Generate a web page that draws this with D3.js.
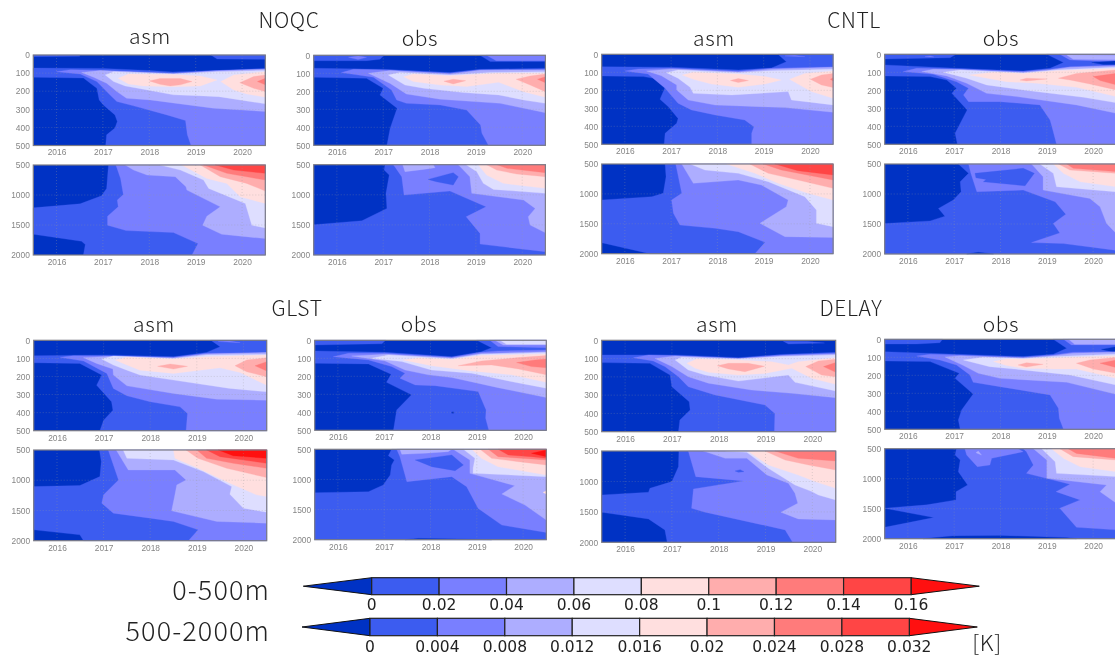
<!doctype html>
<html lang="en">
<head>
<meta charset="UTF-8">
<title>Temperature difference sections</title>
<script src="https://cdn.jsdelivr.net/npm/d3@7"></script>
<style>
    html, body { margin: 0; padding: 0; background: #fff; overflow: hidden; }
    svg { display: block; filter: blur(0.35px); }
    .title { font-family: "Noto Sans CJK JP", "Noto Sans", sans-serif; font-weight: 300; fill: #222; letter-spacing: 0.6px; }
    .side { letter-spacing: 1.1px; }
    .tick text { font-family: "Liberation Sans", sans-serif; font-size: 8.4px; fill: #858585; }
    .bar-label { font-family: "DejaVu Sans", sans-serif; font-size: 15.5px; fill: #222; text-anchor: middle; }
    .grid { stroke: #999; stroke-width: 0.6; stroke-dasharray: 1 2; opacity: 0.55; }
    .frame { fill: none; stroke: #7c7c86; stroke-width: 1.2; }
</style>
</head>
<body>
<div id="chart"></div>
<script>
// axes
const yearTicks = [2016, 2017, 2018, 2019, 2020];
const yearRange = [2015.5, 2020.5];
const upperDepthTicks = [0, 100, 200, 300, 400, 500];
const lowerDepthTicks = [500, 1000, 1500, 2000];

// colour classes, darkest blue = below 0, red = above top level
const classColors = ["#0032c4", "#3c5cf0", "#797fff", "#adadff", "#dedeff", "#ffdfdf", "#ffadad", "#ff7b7b", "#ff4545", "#ff1010"];
const upperLevels = ["0", "0.02", "0.04", "0.06", "0.08", "0.1", "0.12", "0.14", "0.16"];
const lowerLevels = ["0", "0.004", "0.008", "0.012", "0.016", "0.02", "0.024", "0.028", "0.032"];

// Contour regions. Each row: class, then year,depth pairs.
// Rows are painted in order on top of the class 0 background.
const noqcAsmUpper = [
    [1, 2015.5,0, 2016.5,0, 2016.5,7, 2015.5,9],
    [1, 2019.33,0, 2019.46,22, 2020.5,24, 2020.5,0],
    [1, 2015.5,72, 2017,74, 2018,86, 2018.5,94, 2019.46,86, 2020.5,74, 2020.5,500, 2017.06,500, 2017.08,441, 2017.26,404, 2017.31,368, 2017.26,331, 2017.01,276, 2016.92,248, 2016.87,184, 2016.58,127, 2015.5,123],
    [2, 2016,92, 2016.3,81, 2017,86, 2018.5,101, 2019.46,86, 2020.5,77, 2020.5,500, 2018.9,500, 2018.82,441, 2018.78,362, 2018.38,331, 2017.66,281, 2017.3,257, 2017.15,220, 2016.87,147, 2016.51,105],
    [3, 2016.54,96, 2016.94,86, 2018.52,103, 2019.46,88, 2020.5,79, 2020.5,312, 2019.38,294, 2018.02,248, 2017.51,239, 2017.3,202, 2017.08,156, 2016.8,123],
    [4, 2017.05,110, 2017.23,92, 2018.52,105, 2019.46,92, 2020.5,86, 2020.5,270, 2019.5,230, 2019.17,226, 2018.52,220, 2017.87,189, 2017.48,171, 2017.23,147],
    [5, 2017.33,129, 2017.55,105, 2018.52,108, 2019.1,116, 2019.46,138, 2019.1,171, 2018.52,175, 2017.87,171, 2017.55,160],
    [5, 2019.54,147, 2019.82,110, 2020.5,92, 2020.5,233, 2020.1,215, 2019.82,193],
    [6, 2018,143, 2018.23,130, 2018.67,130, 2018.92,147, 2018.67,165, 2018.45,171, 2018.23,162],
    [6, 2019.95,153, 2020.25,119, 2020.5,110, 2020.5,202, 2020.25,184],
    [7, 2020.33,147, 2020.5,129, 2020.5,165]
];
const noqcAsmLower = [
    [1, 2017.12,500, 2020.5,500, 2020.5,2000, 2016.58,2000, 2016.62,1827, 2016.54,1771, 2015.5,1654, 2015.5,1214, 2016.51,1147, 2016.97,1013, 2017.08,890],
    [2, 2017.28,500, 2017.38,723, 2017.44,991, 2017.31,1085, 2017.33,1197, 2017.1,1353, 2017.1,1504, 2017.5,1593, 2018.52,1626, 2019.05,1810, 2018.92,2000, 2020.5,2000, 2020.5,500],
    [3, 2017.48,500, 2017.66,584, 2017.95,667, 2018.56,695, 2018.79,862, 2018.81,918, 2019.53,1197, 2019.24,1353, 2019.15,1504, 2019.56,1654, 2020.5,1727, 2020.5,500],
    [4, 2018.23,500, 2018.67,584, 2019.17,751, 2019.28,890, 2020.07,1141, 2020.21,1504, 2020.5,1548, 2020.5,500],
    [5, 2018.7,500, 2019.24,723, 2019.67,807, 2019.96,1030, 2020.5,1141, 2020.5,500],
    [6, 2019.1,500, 2019.53,695, 2020.1,807, 2020.5,935, 2020.5,500],
    [7, 2019.17,500, 2019.67,639, 2020.5,751, 2020.5,500],
    [8, 2019.42,500, 2019.82,584, 2020.5,639, 2020.5,500]
];
const noqcObsUpper = [
    [1, 2019.09,0, 2019.31,35, 2020.5,35, 2020.5,0],
    [2, 2019.23,0, 2019.44,30, 2020.5,30, 2020.5,0],
    [1, 2015.5,0, 2017.02,0, 2016.93,22, 2016.64,30, 2015.5,30],
    [2, 2016.25,11, 2016.46,4, 2016.64,11, 2016.46,24],
    [1, 2015.5,72, 2017,78, 2018.44,96, 2019.09,78, 2020.5,72, 2020.5,500, 2017.08,500, 2017.15,405, 2017.3,294, 2016.93,220, 2017,183, 2016.64,128, 2015.5,122],
    [2, 2016.1,96, 2016.36,78, 2017,81, 2018.44,100, 2019.09,81, 2020.5,78, 2020.5,500, 2019.27,500, 2019.13,433, 2019.1,387, 2018.8,304, 2018.23,276, 2017.5,267, 2017.29,248, 2017.18,193, 2016.79,122],
    [3, 2016.68,100, 2017.15,85, 2018.44,104, 2019.09,83, 2020.5,81, 2020.5,319, 2019.52,267, 2018.23,244, 2017.5,215, 2017.15,156],
    [4, 2017.11,109, 2017.36,96, 2018.44,109, 2019.31,96, 2020.5,91, 2020.5,267, 2020.03,248, 2019.49,220, 2018.73,207, 2017.87,183, 2017.47,165],
    [5, 2017.44,119, 2017.65,104, 2018.44,113, 2019.45,100, 2020.5,100, 2020.5,233, 2020.03,202, 2019.49,150, 2018.8,174, 2018.23,165, 2017.65,146],
    [6, 2018.31,144, 2018.51,133, 2018.78,141, 2018.51,159],
    [6, 2019.87,133, 2020.17,115, 2020.5,104, 2020.5,202, 2020.17,165],
    [7, 2020.33,133, 2020.5,119, 2020.5,152]
];
const noqcObsLower = [
    [1, 2017.04,500, 2020.5,500, 2020.5,2000, 2015.5,2000, 2015.5,1497, 2016.54,1431, 2017.08,1226, 2017.06,976, 2017.13,672, 2017.02,589],
    [2, 2017.22,500, 2017.4,699, 2017.45,1004, 2018.44,938, 2019.22,1198, 2018.79,1364, 2019.09,1641, 2019.09,1819, 2020.5,1946, 2020.5,500],
    [1, 2017.97,744, 2018.51,633, 2018.62,699, 2018.51,838, 2018.15,783],
    [3, 2017.42,500, 2017.47,616, 2017.87,578, 2018.12,550, 2018.08,500],
    [3, 2018.62,500, 2018.87,699, 2018.91,976, 2020.03,1087, 2020.28,1226, 2020.13,1364, 2020.17,1503, 2020.5,1630, 2020.5,500],
    [4, 2018.79,500, 2019.02,616, 2019.16,810, 2019.38,910, 2020.5,976, 2020.5,500],
    [5, 2019.05,500, 2019.23,672, 2019.59,810, 2020.5,893, 2020.5,500],
    [6, 2019.23,500, 2019.45,589, 2019.88,655, 2020.5,699, 2020.5,500],
    [7, 2019.45,500, 2019.67,561, 2020.5,633, 2020.5,500]
];
const cntlAsmUpper = [
    [1, 2019.31,0, 2019.49,41, 2019.17,76, 2018.45,87, 2017.01,72, 2015.5,69, 2015.5,120, 2016.4,124, 2016.62,133, 2016.87,183, 2016.76,250, 2016.94,291, 2017.15,356, 2017.12,383, 2016.87,439, 2016.85,500, 2020.5,500, 2020.5,0],
    [2, 2019.46,9, 2019.67,6, 2019.89,13],
    [2, 2016,93, 2016.29,81, 2017.01,78, 2018.45,94, 2019.17,78, 2020.5,70, 2020.5,500, 2018.74,500, 2018.74,439, 2018.79,402, 2018.59,365, 2017.95,337, 2017.44,309, 2017.15,272, 2016.87,189, 2016.5,109],
    [3, 2016.47,93, 2017.01,81, 2018.45,98, 2019.17,83, 2020.5,72, 2020.5,322, 2019.46,296, 2017.95,282, 2017.37,254, 2017.12,198, 2017.12,170, 2016.79,119],
    [4, 2016.9,102, 2017.15,87, 2018.45,102, 2019.17,91, 2020.5,83, 2020.5,281, 2019.6,254, 2019.53,207, 2018.31,226, 2017.48,217, 2017.41,183, 2017.15,133],
    [5, 2017.24,115, 2017.48,100, 2018.45,109, 2019.03,124, 2019.38,143, 2019.03,165, 2018.45,183, 2017.87,165, 2017.48,139],
    [5, 2019.56,139, 2019.89,106, 2020.5,93, 2020.5,244, 2020.03,207],
    [6, 2018.28,146, 2018.45,135, 2018.67,146, 2018.45,157],
    [6, 2020.01,139, 2020.25,115, 2020.5,106, 2020.5,185, 2020.25,170],
    [7, 2020.44,139, 2020.5,130, 2020.5,148]
];
const cntlAsmLower = [
    [1, 2016.87,500, 2020.5,500, 2020.5,2000, 2016.54,2000, 2015.5,1816, 2015.5,1102, 2016.58,1046, 2016.83,991, 2016.89,712],
    [2, 2017.1,500, 2017.23,991, 2017.01,1102, 2017.05,1325, 2017.19,1520, 2017.95,1576, 2018.45,1632, 2019.03,1810, 2018.81,2000, 2020.5,2000, 2020.5,500],
    [3, 2017.23,500, 2017.48,823, 2018.45,768, 2018.95,851, 2019.53,1102, 2019.49,1214, 2018.92,1492, 2019.46,1715, 2020.5,1727, 2020.5,500],
    [4, 2017.41,500, 2017.73,600, 2018.45,656, 2019.1,796, 2019.89,1046, 2020.14,1269, 2020.14,1492, 2020.5,1548, 2020.5,500],
    [5, 2018.2,500, 2018.81,656, 2019.31,823, 2019.96,991, 2020.5,1102, 2020.5,500],
    [6, 2018.7,500, 2019.1,656, 2019.74,768, 2020.5,907, 2020.5,500],
    [7, 2018.99,500, 2019.38,600, 2020.5,768, 2020.5,500],
    [8, 2019.24,500, 2019.74,612, 2020.5,684, 2020.5,500]
];
const cntlObsUpper = [
    [1, 2015.5,59, 2017.05,78, 2018.49,93, 2019.07,78, 2019.36,46, 2019,0, 2020.5,0, 2020.5,500, 2017.07,500, 2017.02,439, 2017.28,309, 2016.95,217, 2017.05,189, 2016.84,143, 2016.48,124, 2015.5,120],
    [1, 2015.5,0, 2017.04,0, 2016.91,19, 2015.5,26],
    [2, 2016.37,13, 2016.48,9, 2016.56,15],
    [2, 2019.28,0, 2019.5,31, 2020.5,41, 2020.5,0],
    [3, 2019.43,4, 2019.57,28, 2020.5,31, 2020.5,6],
    [0, 2019.97,46, 2020.5,37, 2020.5,59, 2020.22,56],
    [2, 2015.9,96, 2016.19,78, 2017.05,81, 2018.49,96, 2019.07,83, 2019.5,69, 2020.5,59, 2020.5,500, 2019.21,500, 2019.13,420, 2019.07,365, 2018.85,281, 2017.99,263, 2017.31,263, 2017.2,226, 2017.31,189, 2017.05,152, 2016.55,111],
    [3, 2016.3,96, 2016.55,83, 2017.05,85, 2018.49,100, 2019.07,87, 2019.5,72, 2020.5,65, 2020.5,328, 2019.64,281, 2018.35,235, 2017.7,217, 2017.27,161, 2016.84,120],
    [4, 2016.77,100, 2017.13,87, 2018.49,104, 2019.21,87, 2020.5,72, 2020.5,269, 2019.79,239, 2018.49,198, 2017.7,170, 2017.27,133],
    [5, 2017.33,115, 2017.85,100, 2018.49,106, 2019.21,91, 2020.5,78, 2020.5,235, 2019.64,183, 2018.78,161, 2018.13,152],
    [6, 2018.42,143, 2018.56,133, 2019,137, 2018.56,148],
    [6, 2019.25,133, 2019.64,106, 2020.5,87, 2020.5,198, 2019.93,165, 2019.5,143],
    [7, 2020,124, 2020.5,106, 2020.5,170, 2020.15,146]
];
const cntlObsLower = [
    [1, 2017.09,500, 2020.5,500, 2020.5,2000, 2015.5,2000, 2015.5,1492, 2016.48,1448, 2016.8,1370, 2016.66,1241, 2016.98,1102, 2017.15,963, 2017.13,796, 2017.31,656],
    [0, 2017.27,2000, 2017.52,1972, 2017.85,2000],
    [2, 2017.31,500, 2017.36,656, 2017.49,963, 2018.49,935, 2019.18,1130, 2019.41,1336, 2019.14,1492, 2019.28,1649, 2018.67,1810, 2019.36,1827, 2020.5,1939, 2020.5,500],
    [1, 2017.45,656, 2018.49,572, 2018.73,656, 2018.53,862, 2017.63,796, 2017.69,757, 2017.47,729],
    [3, 2018.67,500, 2018.92,712, 2018.92,935, 2019.93,1074, 2020.15,1214, 2020.29,1492, 2020.5,1660, 2020.5,500],
    [4, 2018.85,500, 2019.14,656, 2019.21,879, 2020.5,963, 2020.5,500],
    [5, 2019.14,500, 2019.36,656, 2019.72,796, 2020.5,879, 2020.5,500],
    [6, 2019.25,500, 2019.5,600, 2020.5,656, 2020.5,500],
    [7, 2019.43,500, 2019.57,572, 2020.5,628, 2020.5,500]
];
const glstAsmUpper = [
    [1, 2015.5,85, 2017.07,81, 2018.5,91, 2019.21,67, 2019.5,35, 2019.3,0, 2020.5,0, 2020.5,500, 2016.92,500, 2017,442, 2017.2,387, 2017.17,340, 2016.85,248, 2016.96,192, 2016.49,128, 2015.5,124],
    [2, 2019.46,7, 2019.71,4, 2019.93,13],
    [2, 2016.07,94, 2016.35,85, 2017.07,87, 2018.5,94, 2019.21,72, 2020.5,68, 2020.5,500, 2018.77,500, 2018.8,405, 2018.64,368, 2018,340, 2017.5,307, 2017.21,266, 2017.07,183, 2016.57,115],
    [3, 2016.57,96, 2017.07,90, 2018.5,98, 2019.21,76, 2020.5,68, 2020.5,331, 2019.43,326, 2018.5,294, 2017.5,252, 2017.21,192, 2017.2,159, 2016.85,128],
    [4, 2016.96,104, 2017.21,87, 2018.5,100, 2019.21,81, 2020.5,78, 2020.5,285, 2019.71,266, 2018.5,220, 2017.78,192, 2017.5,165, 2017.21,137],
    [5, 2017.25,109, 2017.5,94, 2018.5,104, 2019.21,91, 2020.5,81, 2020.5,248, 2019.93,178, 2019.5,152, 2018.5,183, 2017.78,165, 2017.42,128],
    [6, 2018.16,144, 2018.43,131, 2018.8,144, 2018.5,159],
    [6, 2019.82,141, 2020.07,109, 2020.5,96, 2020.5,202, 2020.07,174],
    [7, 2020.25,141, 2020.5,118, 2020.5,170]
];
const glstAsmLower = [
    [1, 2016.91,500, 2020.5,500, 2020.5,2000, 2016.57,2000, 2016.49,1902, 2015.5,1820, 2015.5,1105, 2016.49,1088, 2016.92,940, 2016.95,692],
    [2, 2017.1,500, 2017.32,995, 2017,1242, 2016.96,1380, 2017.21,1545, 2018,1627, 2018.5,1682, 2019.03,1820, 2018.82,2000, 2020.5,2000, 2020.5,500],
    [3, 2017.27,500, 2017.53,830, 2018.53,830, 2018.77,995, 2018.57,1077, 2018.53,1242, 2018.46,1506, 2019.43,1682, 2020.5,1710, 2020.5,500],
    [4, 2017.42,500, 2017.5,637, 2018.5,665, 2019.14,857, 2019.75,1105, 2019.71,1231, 2020,1462, 2020.5,1528, 2020.5,500],
    [5, 2018.5,500, 2018.53,637, 2019.03,802, 2019.71,1050, 2020.28,1242, 2020.5,1270, 2020.5,500],
    [6, 2018.77,500, 2019.02,637, 2019.64,802, 2020.5,956, 2020.5,500],
    [7, 2019,500, 2019.21,637, 2019.78,720, 2020.5,802, 2020.5,500],
    [8, 2019.21,500, 2019.5,610, 2020.5,720, 2020.5,500],
    [9, 2019.46,500, 2019.78,594, 2020.5,637, 2020.5,500]
];
const glstObsUpper = [
    [1, 2015.5,59, 2017.03,67, 2018.46,91, 2019.1,63, 2019.32,41, 2019,0, 2020.5,0, 2020.5,500, 2017.2,500, 2017.27,387, 2017.59,303, 2017.05,233, 2017.15,189, 2016.66,131, 2015.5,128],
    [1, 2015.5,0, 2017.03,0, 2016.95,19, 2015.5,26],
    [2, 2019.28,0, 2019.46,35, 2020.5,41, 2020.5,0],
    [3, 2019.39,0, 2019.57,26, 2020.5,26, 2020.5,0],
    [4, 2019.5,0, 2019.64,22, 2020.5,22, 2020.5,0],
    [2, 2015.9,91, 2016.23,72, 2017.03,72, 2018.46,94, 2019.1,67, 2019.46,59, 2020.5,54, 2020.5,500, 2019.26,500, 2019.19,433, 2019.2,387, 2019.03,285, 2018.1,252, 2017.67,248, 2017.34,211, 2017.45,183, 2017.16,146, 2016.66,109],
    [0, 2018.46,398, 2018.5,398, 2018.5,405, 2018.46,405],
    [3, 2016.3,87, 2017.03,78, 2018.46,98, 2019.1,74, 2020.5,63, 2020.5,318, 2019.46,263, 2018.46,207, 2017.95,192, 2017.45,165, 2017.02,115],
    [4, 2016.73,100, 2017.09,81, 2018.46,102, 2019.1,78, 2020.5,68, 2020.5,266, 2019.82,233, 2018.89,183, 2018.02,165, 2017.38,118],
    [5, 2017.41,109, 2017.74,98, 2018.46,106, 2019.1,85, 2020.5,76, 2020.5,233, 2019.75,192, 2018.89,170, 2018.02,141],
    [6, 2018.6,141, 2019.1,115, 2019.9,96, 2020.5,85, 2020.5,192, 2019.9,159, 2019.32,137],
    [7, 2019.86,124, 2020.26,109, 2020.5,104, 2020.5,152, 2020.18,146]
];
const glstObsLower = [
    [1, 2017.16,500, 2020.5,500, 2020.5,2000, 2015.5,2000, 2015.5,1220, 2016.66,1204, 2016.98,1093, 2017.13,927, 2017.16,760, 2017.22,677, 2017.09,605],
    [0, 2017.45,2000, 2017.74,1979, 2018.6,1990, 2019.32,2000],
    [2, 2017.27,500, 2017.34,622, 2017.39,760, 2017.49,1037, 2018.46,954, 2018.78,1120, 2019.03,1481, 2019.54,1758, 2020.5,1880, 2020.5,500],
    [1, 2017.67,677, 2018.46,594, 2018.71,760, 2018.53,855, 2018.03,788],
    [3, 2017.34,500, 2017.38,583, 2017.88,566, 2018.38,539, 2018.46,500],
    [3, 2018.49,500, 2018.85,677, 2018.85,899, 2019.82,1104, 2019.54,1242, 2020.04,1425, 2020.5,1674, 2020.5,500],
    [5, 2020.43,1215, 2020.5,1187, 2020.5,1242],
    [4, 2018.71,500, 2018.96,650, 2018.92,816, 2018.92,899, 2020.5,954, 2020.5,500],
    [5, 2018.89,500, 2019.1,650, 2019.46,788, 2020.5,927, 2020.5,500],
    [6, 2019.07,500, 2019.32,650, 2019.9,705, 2020.5,760, 2020.5,500],
    [7, 2019.25,500, 2019.46,622, 2020.5,677, 2020.5,500],
    [8, 2019.46,500, 2019.68,594, 2020.18,622, 2020.5,650, 2020.5,500],
    [9, 2020.18,566, 2020.5,511, 2020.5,622]
];
const delayAsmUpper = [
    [1, 2015.5,80, 2017.07,80, 2018.42,95, 2019.35,77, 2020.5,66, 2020.5,500, 2017.14,500, 2017.17,436, 2017.39,381, 2017.37,336, 2017,254, 2016.96,190, 2016.53,126, 2015.5,122],
    [1, 2019.38,5, 2019.49,20, 2020.26,15, 2019.9,7],
    [2, 2016.18,95, 2016.5,80, 2017.07,84, 2018.42,99, 2019.35,80, 2020.5,71, 2020.5,500, 2019.19,500, 2019.2,400, 2018.99,354, 2017.92,299, 2017.35,254, 2017.14,199, 2016.85,144, 2016.6,113],
    [3, 2016.64,99, 2017.07,86, 2018.42,100, 2019.35,84, 2020.5,75, 2020.5,314, 2019.56,290, 2018.7,272, 2017.78,235, 2017.35,199, 2017,144],
    [4, 2017.07,108, 2017.21,93, 2018.42,102, 2019.35,89, 2020.5,80, 2020.5,277, 2019.63,230, 2019.49,190, 2018.42,223, 2017.71,190, 2017.35,162],
    [5, 2017.32,126, 2017.53,102, 2018.42,108, 2019.13,117, 2019.49,135, 2019.7,117, 2020.5,95, 2020.5,241, 2019.99,208, 2019.56,153, 2018.99,181, 2018.42,190, 2017.78,175, 2017.5,153],
    [6, 2017.97,139, 2018.21,126, 2018.63,126, 2018.98,142, 2018.56,172, 2018.21,157],
    [6, 2019.86,144, 2020.13,113, 2020.5,104, 2020.5,199, 2020.2,190],
    [7, 2020.24,144, 2020.5,122, 2020.5,175]
];
const delayAsmLower = [
    [1, 2017.15,500, 2020.5,500, 2020.5,2000, 2016.9,2000, 2016.85,1796, 2016.5,1616, 2015.5,1506, 2015.5,1222, 2016.5,1178, 2016.53,1113, 2017,1003, 2017.14,757],
    [2, 2017.35,500, 2017.51,921, 2018.53,992, 2017.46,1124, 2017.42,1441, 2017.71,1506, 2019.42,1796, 2019.58,2000, 2020.5,2000, 2020.5,500],
    [1, 2018.35,828, 2018.46,806, 2018.54,839, 2018.42,850],
    [3, 2017.67,500, 2018.14,620, 2018.6,620, 2019.03,894, 2019.49,1031, 2019.63,1195, 2019.69,1359, 2019.33,1506, 2019.7,1616, 2020.5,1632, 2020.5,500],
    [4, 2018.14,500, 2018.6,522, 2019.06,784, 2019.63,1058, 2019.99,1167, 2020.13,1222, 2020.5,1304, 2020.5,500],
    [5, 2018.62,500, 2019.06,730, 2019.7,894, 2020.06,1003, 2020.5,1113, 2020.5,500],
    [6, 2018.99,500, 2019.42,648, 2019.92,730, 2020.5,812, 2020.5,500],
    [7, 2019.2,500, 2019.7,620, 2020.5,664, 2020.5,500]
];
const delayObsUpper = [
    [1, 2015.5,69, 2017.05,83, 2018.49,96, 2019.14,83, 2019.43,50, 2019.14,0, 2020.5,0, 2020.5,500, 2017.13,500, 2017.09,448, 2017.16,393, 2017.41,304, 2017.02,217, 2017.11,189, 2016.48,124, 2015.5,120],
    [1, 2015.5,0, 2016.75,0, 2016.69,19, 2016.19,26, 2015.5,26],
    [2, 2019.36,0, 2019.53,31, 2020.5,31, 2020.5,0],
    [3, 2019.47,0, 2019.6,28, 2020.5,28, 2020.5,0],
    [0, 2020.18,56, 2020.5,41, 2020.5,74],
    [2, 2016.19,93, 2016.48,83, 2017.05,87, 2018.49,100, 2019.14,87, 2019.57,72, 2020.5,69, 2020.5,500, 2019.36,500, 2019.27,439, 2019.25,383, 2019.07,309, 2017.99,263, 2017.41,239, 2017.34,198, 2017.05,143, 2016.69,115],
    [3, 2016.8,98, 2017.13,91, 2018.49,104, 2019.14,91, 2019.57,78, 2020.5,72, 2020.5,306, 2019.43,239, 2017.99,217, 2017.52,189, 2017.2,146],
    [4, 2017.2,115, 2017.63,100, 2018.49,106, 2019.14,96, 2020.5,83, 2020.5,254, 2019.5,198, 2018.49,170, 2017.77,152],
    [5, 2017.85,124, 2018.13,109, 2018.56,109, 2019.21,102, 2020.5,91, 2020.5,217, 2019.64,165, 2019.21,165, 2018.49,161, 2018.13,146],
    [6, 2018.38,143, 2018.56,130, 2018.92,139, 2018.56,154],
    [6, 2019.64,133, 2019.93,115, 2020.5,100, 2020.5,189, 2020,165],
    [7, 2020.15,133, 2020.5,115, 2020.5,157]
];
const delayObsLower = [
    [1, 2017.05,500, 2020.5,500, 2020.5,2000, 2015.5,2000, 2015.5,1810, 2016.56,1648, 2015.5,1492, 2016.41,1436, 2017.04,1353, 2017.04,1216, 2017.29,1105, 2017.09,884, 2017.13,689, 2017.02,606],
    [0, 2016.33,2000, 2016.98,1956, 2017.99,1950, 2019.43,1983, 2019.64,2000],
    [2, 2017.23,500, 2017.27,606, 2017.5,800, 2017.77,772, 2017.81,661, 2018.49,550, 2018.38,500],
    [3, 2017.47,566, 2017.59,606, 2017.52,539],
    [2, 2018.49,500, 2018.56,550, 2018.71,772, 2018.56,911, 2019.5,1093, 2019.2,1216, 2019.72,1353, 2019.28,1492, 2019.64,1810, 2020.5,1854, 2020.5,500],
    [3, 2018.71,500, 2019,689, 2019,994, 2020.29,1105, 2020.15,1216, 2020.5,1409, 2020.5,500],
    [4, 2018.89,500, 2019.18,717, 2019.21,911, 2020.5,966, 2020.5,500],
    [5, 2019.1,500, 2019.36,661, 2019.72,800, 2020.5,883, 2020.5,500],
    [6, 2019.28,500, 2019.57,633, 2020.5,689, 2020.5,500],
    [7, 2019.46,500, 2019.64,578, 2020.5,661, 2020.5,500]
];

// page layout
const panels = [
    { x: 33.3, w: 232, upperTop: 55, upperH: 90.5, lowerTop: 165, lowerH: 90, upper: noqcAsmUpper, lower: noqcAsmLower },
    { x: 313.7, w: 231.7, upperTop: 55.3, upperH: 90, lowerTop: 164.7, lowerH: 90.3, upper: noqcObsUpper, lower: noqcObsLower },
    { x: 601.7, w: 231.4, upperTop: 54.3, upperH: 90, lowerTop: 164, lowerH: 89.7, upper: cntlAsmUpper, lower: cntlAsmLower },
    { x: 884.7, w: 231.6, upperTop: 54.3, upperH: 90, lowerTop: 164, lowerH: 90, upper: cntlObsUpper, lower: cntlObsLower },
    { x: 33.7, w: 233, upperTop: 340.3, upperH: 90.4, lowerTop: 450, lowerH: 90.7, upper: glstAsmUpper, lower: glstAsmLower },
    { x: 314.7, w: 231.6, upperTop: 340.3, upperH: 90, lowerTop: 449.3, lowerH: 90.4, upper: glstObsUpper, lower: glstObsLower },
    { x: 601.7, w: 234, upperTop: 340.3, upperH: 91.4, lowerTop: 451, lowerH: 91.3, upper: delayAsmUpper, lower: delayAsmLower },
    { x: 884.7, w: 231.6, upperTop: 339.3, upperH: 90, lowerTop: 448.7, lowerH: 90, upper: delayObsUpper, lower: delayObsLower }
];
const titles = [
    ["NOQC", 289, 19, 21], ["asm", 150, 35, 21], ["obs", 420, 37, 21],
    ["CNTL", 854, 19, 21], ["asm", 714, 37, 21], ["obs", 1001, 37, 21],
    ["GLST", 297, 307, 21], ["asm", 154, 323, 21], ["obs", 419, 323, 21],
    ["DELAY", 851, 307, 21], ["asm", 717, 323, 21], ["obs", 1001, 323, 21]
];

const svg = d3.select("#chart").append("svg").attr("width", 1115).attr("height", 660);

svg.selectAll("text.title")
    .data(titles)
    .enter()
    .append("text")
    .attr("class", "title")
    .attr("x", d => d[1])
    .attr("y", d => d[2])
    .attr("font-size", d => d[3])
    .attr("text-anchor", "middle")
    .attr("dominant-baseline", "central")
    .text(d => d[0]);

const line = d3.line().curve(d3.curveLinearClosed);

function drawSection(x0, top, w, h, depthDomain, depthTicks, regions) {
    const x = d3.scaleLinear().domain(yearRange).range([0, w]);
    const y = d3.scaleLinear().domain(depthDomain).range([0, h]);
    const g = svg.append("g").attr("transform", "translate(" + x0 + "," + top + ")");

    // class 0 is the background of every section
    g.append("rect").attr("width", w).attr("height", h).attr("fill", classColors[0]);

    g.selectAll("path.region")
        .data(regions)
        .enter()
        .append("path")
        .attr("class", "region")
        .attr("fill", d => classColors[d[0]])
        .attr("stroke", d => classColors[d[0]])
        .attr("stroke-width", 0.3)
        .attr("d", d => {
            const pts = [];
            for (let i = 1; i < d.length; i += 2) pts.push([x(d[i]), y(d[i + 1])]);
            return line(pts);
        });

    g.selectAll("line.gx").data(yearTicks).enter().append("line")
        .attr("class", "grid")
        .attr("x1", d => x(d)).attr("x2", d => x(d)).attr("y1", 0).attr("y2", h);
    g.selectAll("line.gy").data(depthTicks.slice(1, -1)).enter().append("line")
        .attr("class", "grid")
        .attr("x1", 0).attr("x2", w).attr("y1", d => y(d)).attr("y2", d => y(d));

    g.append("rect").attr("class", "frame").attr("width", w).attr("height", h);

    const xAxis = d3.axisBottom(x).tickValues(yearTicks).tickFormat(d3.format("d")).tickSize(0).tickPadding(4);
    const yAxis = d3.axisLeft(y).tickValues(depthTicks).tickFormat(d3.format("d")).tickSize(0).tickPadding(3.5);
    g.append("g").attr("transform", "translate(0," + h + ")").call(xAxis).call(a => a.select(".domain").remove());
    g.append("g").call(yAxis).call(a => a.select(".domain").remove());
}

panels.forEach(p => {
    drawSection(p.x, p.upperTop, p.w, p.upperH, [0, 500], upperDepthTicks, p.upper);
    drawSection(p.x, p.lowerTop, p.w, p.lowerH, [500, 2000], lowerDepthTicks, p.lower);
});

// colour bars
function drawColorBar(x0, x1, tipL, tipR, top, h, labels, labelY) {
    const x = d3.scalePoint().domain(labels).range([x0, x1]);
    const g = svg.append("g");
    const mid = top + h / 2;

    g.append("path")
        .attr("d", d3.line()([[x0, top], [tipL, mid], [x0, top + h]]) + "Z")
        .attr("fill", classColors[0]).attr("stroke", "#111").attr("stroke-width", 1);
    g.append("path")
        .attr("d", d3.line()([[x1, top], [tipR, mid], [x1, top + h]]) + "Z")
        .attr("fill", classColors[9]).attr("stroke", "#111").attr("stroke-width", 1);

    g.selectAll("rect")
        .data(labels.slice(0, -1))
        .enter()
        .append("rect")
        .attr("x", d => x(d))
        .attr("y", top)
        .attr("width", x.step())
        .attr("height", h)
        .attr("fill", (d, i) => classColors[i + 1])
        .attr("stroke", "#222")
        .attr("stroke-width", 1.2);

    g.selectAll("text")
        .data(labels)
        .enter()
        .append("text")
        .attr("class", "bar-label")
        .attr("x", d => x(d))
        .attr("y", labelY)
        .attr("dominant-baseline", "central")
        .text(d => d);
}

drawColorBar(371.7, 911, 303.3, 979.3, 577.7, 17, upperLevels, 605);
drawColorBar(370, 909.3, 302, 977.3, 618.3, 17.4, lowerLevels, 646.5);

const sideLabels = [["0-500m", 270, 588], ["500-2000m", 270, 629]];
svg.selectAll("text.side")
    .data(sideLabels)
    .enter()
    .append("text")
    .attr("class", "title side")
    .attr("x", d => d[1])
    .attr("y", d => d[2])
    .attr("font-size", 27)
    .attr("text-anchor", "end")
    .attr("dominant-baseline", "central")
    .text(d => d[0]);

svg.append("text")
    .attr("class", "title")
    .attr("x", 987)
    .attr("y", 641)
    .attr("font-size", 22)
    .attr("text-anchor", "middle")
    .attr("dominant-baseline", "central")
    .text("[K]");
</script>
</body>
</html>
